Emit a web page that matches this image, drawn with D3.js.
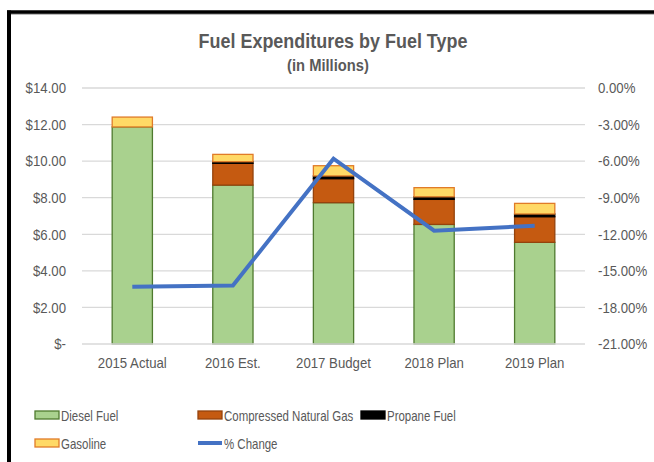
<!DOCTYPE html>
<html>
<head>
<meta charset="utf-8">
<script src="https://cdn.jsdelivr.net/npm/d3@7"></script>
<style>
  body { margin: 0; background: #fff; }
  text { font-family: "Liberation Sans", Arial, sans-serif; }
</style>
</head>
<body>
<div id="chart"></div>
<script>
// chart data
const years = ["2015 Actual", "2016 Est.", "2017 Budget", "2018 Plan", "2019 Plan"];
const diesel = [11.87, 8.69, 7.73, 6.54, 5.56];
const cng = [0, 1.19, 1.31, 1.37, 1.40];
const propane = [0, 0.09, 0.15, 0.14, 0.15];
const gasoline = [0.54, 0.40, 0.56, 0.50, 0.58];
const pctChange = [-16.3, -16.2, -5.8, -11.7, -11.3];
const leftTicks = [0, 2, 4, 6, 8, 10, 12, 14];
const rightTicks = [0, -3, -6, -9, -12, -15, -18, -21];

// dimensions
const W = 654, H = 462;
const margin = { top: 88, right: 69, bottom: 118, left: 82 },
  width = W - margin.left - margin.right,
  height = H - margin.top - margin.bottom;

const series = [
  { key: "Diesel Fuel", values: diesel, fill: "#a9d18e", stroke: "#4f7a2f" },
  { key: "Compressed Natural Gas", values: cng, fill: "#c55a11", stroke: "#94430d" },
  { key: "Propane Fuel", values: propane, fill: "#000000", stroke: "#000000" },
  { key: "Gasoline", values: gasoline, fill: "#ffd966", stroke: "#e07b28" }
];

const svg = d3.select("#chart").append("svg")
  .attr("width", W).attr("height", H);

// squeeze text a little, the original font is narrower
function condense(sel, k) {
  sel.each(function () {
    const w = this.getComputedTextLength();
    d3.select(this).attr("textLength", w * k).attr("lengthAdjust", "spacingAndGlyphs");
  });
}

// frame
svg.append("rect").attr("x", 0).attr("y", 0).attr("width", W).attr("height", H).attr("fill", "#fff");
svg.append("line").attr("x1", 9).attr("x2", W).attr("y1", 14).attr("y2", 14)
  .attr("stroke", "#a6a6a6").attr("stroke-width", 1.5);
svg.append("line").attr("x1", 7).attr("x2", W).attr("y1", 12).attr("y2", 12)
  .attr("stroke", "#000").attr("stroke-width", 3.5);
svg.append("line").attr("x1", 9).attr("x2", 9).attr("y1", 10.5).attr("y2", H)
  .attr("stroke", "#000").attr("stroke-width", 4);

// titles
svg.append("text").attr("x", 333).attr("y", 48).attr("text-anchor", "middle")
  .attr("font-size", 19.5).attr("font-weight", "bold").attr("fill", "#595959")
  .text("Fuel Expenditures by Fuel Type")
  .call(condense, 0.92);
svg.append("text").attr("x", 328).attr("y", 71).attr("text-anchor", "middle")
  .attr("font-size", 16).attr("font-weight", "bold").attr("fill", "#595959")
  .text("(in Millions)")
  .call(condense, 0.92);

const g = svg.append("g").attr("transform", `translate(${margin.left},${margin.top})`);

const x = d3.scaleBand().domain(years).range([0, width]).paddingInner(0.6).paddingOuter(0.3);
const y = d3.scaleLinear().domain([0, 14]).range([height, 0]);
const y2 = d3.scaleLinear().domain([-21, 0]).range([height, 0]);

// gridlines
g.append("g").selectAll("line").data(leftTicks.slice(1)).enter().append("line")
  .attr("x1", 0).attr("x2", width)
  .attr("y1", d => y(d)).attr("y2", d => y(d))
  .attr("stroke", "#d9d9d9").attr("stroke-width", 1.3);

// left axis
const fmtLeft = d => d === 0 ? "$-" : "$" + d.toFixed(2);
const yAxis = g.append("g")
  .call(d3.axisLeft(y).tickValues(leftTicks).tickFormat(fmtLeft).tickSize(0).tickPadding(16));
yAxis.select(".domain").remove();
yAxis.selectAll("text").attr("font-size", 15).attr("fill", "#595959")
  .attr("font-family", "Liberation Sans, Arial, sans-serif")
  .call(condense, 0.88);

// right axis
const yAxisR = g.append("g").attr("transform", `translate(${width},0)`)
  .call(d3.axisRight(y2).tickValues(rightTicks).tickFormat(d => d.toFixed(2) + "%").tickSize(0).tickPadding(13));
yAxisR.select(".domain").remove();
yAxisR.selectAll("text").attr("font-size", 15).attr("fill", "#595959")
  .attr("font-family", "Liberation Sans, Arial, sans-serif")
  .call(condense, 0.88);

// stacked bars
const rows = years.map((yr, i) => {
  const r = { year: yr };
  series.forEach(s => r[s.key] = s.values[i]);
  return r;
});
const stack = d3.stack().keys(series.map(s => s.key))(rows);

stack.forEach((layer, li) => {
  const s = series[li];
  g.append("g").selectAll("rect").data(layer.filter(d => d[1] - d[0] > 0)).enter().append("rect")
    .attr("x", d => x(d.data.year))
    .attr("width", x.bandwidth())
    .attr("y", d => y(d[1]))
    .attr("height", d => y(d[0]) - y(d[1]))
    .attr("fill", s.fill)
    .attr("stroke", s.stroke)
    .attr("stroke-width", 1.3);
});

// baseline
g.append("line").attr("x1", 0).attr("x2", width).attr("y1", height).attr("y2", height)
  .attr("stroke", "#d9d9d9").attr("stroke-width", 1.5);

// x axis labels
const xAxis = g.append("g").attr("transform", `translate(0,${height})`)
  .call(d3.axisBottom(x).tickSize(0).tickPadding(13));
xAxis.select(".domain").remove();
xAxis.selectAll("text").attr("font-size", 15).attr("fill", "#595959")
  .attr("font-family", "Liberation Sans, Arial, sans-serif")
  .call(condense, 0.88);

// % change line
const line = d3.line()
  .x((d, i) => x(years[i]) + x.bandwidth() / 2)
  .y(d => y2(d));
g.append("path").datum(pctChange)
  .attr("d", line)
  .attr("fill", "none")
  .attr("stroke", "#4472c4")
  .attr("stroke-width", 4)
  .attr("stroke-linejoin", "miter");

// legend
const legendItems = [
  { key: "Diesel Fuel", x: 35, y: 415, type: "box", s: series[0] },
  { key: "Compressed Natural Gas", x: 198, y: 415, type: "box", s: series[1] },
  { key: "Propane Fuel", x: 361, y: 415, type: "box", s: series[2] },
  { key: "Gasoline", x: 35, y: 443, type: "box", s: series[3] },
  { key: "% Change", x: 198, y: 443, type: "line" }
];
const lg = svg.append("g").selectAll("g").data(legendItems).enter().append("g")
  .attr("transform", d => `translate(${d.x},${d.y})`);
lg.filter(d => d.type === "box").append("rect")
  .attr("x", 0).attr("y", -4).attr("width", 24).attr("height", 8)
  .attr("fill", d => d.s.fill).attr("stroke", d => d.s.stroke).attr("stroke-width", 1.3);
lg.filter(d => d.type === "line").append("line")
  .attr("x1", 0).attr("x2", 24).attr("y1", 0).attr("y2", 0)
  .attr("stroke", "#4472c4").attr("stroke-width", 4);
lg.append("text").attr("x", 26).attr("y", 5.5)
  .attr("font-size", 14.5).attr("fill", "#595959")
  .text(d => d.key)
  .call(condense, 0.79);
</script>
</body>
</html>
